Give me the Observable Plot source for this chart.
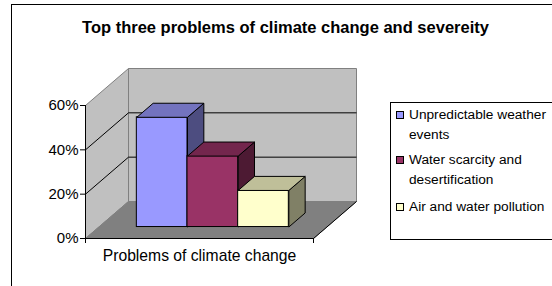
<!DOCTYPE html>
<html>
<head>
<meta charset="utf-8">
<script src="https://cdn.jsdelivr.net/npm/d3@7"></script>
<script src="https://cdn.jsdelivr.net/npm/@observablehq/plot@0.6"></script>
<style>
  html, body { margin: 0; padding: 0; background: #fff; }
  #wrap { position: relative; width: 552px; height: 286px; overflow: hidden; background: #fff;
          font-family: "Liberation Sans", Arial, sans-serif; color: #000; }
  #frame { position: absolute; left: 11px; top: 4px; width: 640px; height: 340px; border: 1px solid #000; }
  #chart { position: absolute; left: 0; top: 0; }
  #title { position: absolute; left: 0; top: 18px; width: 571px; text-align: center;
           font-weight: bold; font-size: 16.5px; line-height: 19px; white-space: nowrap; }
  #legend { position: absolute; left: 390px; top: 102px; width: 220px; height: 136px; border: 1px solid #000; background: #fff; }
  .entry { position: absolute; left: 0; }
  .sw { position: absolute; left: 5px; width: 6px; height: 6px; border: 1px solid #000; }
  .lt { position: absolute; left: 18px; width: 142px; font-size: 13.7px; line-height: 20px; }
</style>
</head>
<body>
<div id="wrap">
  <div id="frame"></div>
  <div id="chart"></div>
  <div id="title"></div>
  <div id="legend"></div>
</div>
<script>
// ---- data ----
const title = "Top three problems of climate change and severeity";
const categories = ["Problems of climate change"];
const series = ["Unpredictable weather events", "Water scarcity and desertification", "Air and water pollution"];
const values = [0.495, 0.32, 0.165];
const frontColors = ["#9999ff", "#993366", "#ffffcc"];
const topColors = ["#7373bf", "#73264d", "#bfbf99"];
const sideColors = ["#4d4d80", "#4d1a33", "#808066"];
const yTicks = [0, 0.2, 0.4, 0.6];

// ---- layout ----
const W = 552, H = 286, mL = 85, mR = 239, mT = 105, mB = 48;
const yMax = d3.max(yTicks);
const ddx = 43 / (W - mL - mR);             // depth offset in x units
const ddy = 37 / (H - mT - mB) * yMax;      // depth offset in y units
const P = (x, y, z) => ({x: x + z * ddx, y: y + z * ddy});
const poly = (id, fill, pts) => pts.map(([x, y, z]) => ({id, fill, ...P(x, y, z)}));

const walls = [
  ...poly("left", "#c0c0c0", [[0, 0, 0], [0, yMax, 0], [0, yMax, 1], [0, 0, 1]]),
  ...poly("back", "#c0c0c0", [[0, 0, 1], [1, 0, 1], [1, yMax, 1], [0, yMax, 1]])
];
const floor = poly("floor", "#808080", [[0, 0, 0], [1, 0, 0], [1, 0, 1], [0, 0, 1]]);

const grid = [];
yTicks.filter(t => t > 0 && t < yMax).forEach(t => {
  const a = P(0, t, 0), b = P(0, t, 1), c = P(1, t, 1);
  grid.push({x1: a.x, y1: a.y, x2: b.x, y2: b.y});
  grid.push({x1: b.x, y1: b.y, x2: c.x, y2: c.y});
});
const fe0 = P(1, 0, 0), fe1 = P(1, 0, 1);
const floorEdge = [{x1: fe0.x, y1: fe0.y, x2: fe1.x, y2: fe1.y}];

const n = series.length;
const w = 1 / (n + 1.5);
const zf = 0.31, zb = 0.69;
const fronts = [], tops = [], sides = [];
series.forEach((s, i) => {
  const x0 = w * (0.75 + i), x1 = x0 + w, v = values[i];
  const a = P(x0, 0, zf), b = P(x1, v, zf);
  fronts.push({name: s, x1: a.x, x2: b.x, y1: a.y, y2: b.y, fill: frontColors[i]});
  tops.push(...poly("top" + i, topColors[i], [[x0, v, zf], [x1, v, zf], [x1, v, zb], [x0, v, zb]]));
  sides.push(...poly("side" + i, sideColors[i], [[x1, 0, zf], [x1, v, zf], [x1, v, zb], [x1, 0, zb]]));
});

const polyOpts = (stroke) => ({x: "x", y: "y", z: "id", fill: "fill", stroke, strokeWidth: 1,
  curve: "linear-closed", strokeLinejoin: "miter", strokeLinecap: "butt"});

const chart = Plot.plot({
  width: W, height: H,
  marginLeft: mL, marginRight: mR, marginTop: mT, marginBottom: mB,
  x: {domain: [0, 1]},
  y: {domain: [0, yMax]},
  color: {type: "identity"},
  style: {fontFamily: "'Liberation Sans', Arial, sans-serif", fontSize: "15px", color: "#000", background: "transparent", overflow: "visible"},
  marks: [
    Plot.line(walls, polyOpts("#808080")),
    Plot.line(floor, polyOpts("#808080")),
    Plot.link(grid, {x1: "x1", y1: "y1", x2: "x2", y2: "y2", stroke: "#000", strokeWidth: 1}),
    Plot.link(floorEdge, {x1: "x1", y1: "y1", x2: "x2", y2: "y2", stroke: "#000", strokeWidth: 1}),
    Plot.line(sides, polyOpts("#000")),
    Plot.rect(fronts, {x1: "x1", x2: "x2", y1: "y1", y2: "y2", fill: "fill", stroke: "#000", strokeWidth: 1}),
    Plot.line(tops, polyOpts("#000")),
    Plot.ruleX([0], {y1: 0, y2: yMax, stroke: "#000", strokeWidth: 1}),
    Plot.ruleY([0], {x1: 0, x2: 1, stroke: "#000", strokeWidth: 1}),
    Plot.axisY({ticks: yTicks, tickFormat: d3.format(".0%"), tickSize: 5, tickPadding: 2, label: null, fontSize: 15}),
    Plot.axisX({ticks: [0, 1], tickSize: 5, tickFormat: () => "", label: null}),
    Plot.text(categories, {frameAnchor: "bottom", dy: 22, fontSize: 15.7})
  ]
});
document.getElementById("chart").appendChild(chart);
document.getElementById("title").textContent = title;

// legend
const legend = document.getElementById("legend");
const entryTops = [2, 47, 93.5];
series.forEach((s, i) => {
  const e = document.createElement("div");
  e.className = "entry";
  e.style.top = entryTops[i] + "px";
  const sw = document.createElement("div");
  sw.className = "sw";
  sw.style.top = "6px";
  sw.style.background = frontColors[i];
  const t = document.createElement("div");
  t.className = "lt";
  t.style.top = "0px";
  t.textContent = s;
  e.appendChild(sw); e.appendChild(t);
  legend.appendChild(e);
});
</script>
</body>
</html>
